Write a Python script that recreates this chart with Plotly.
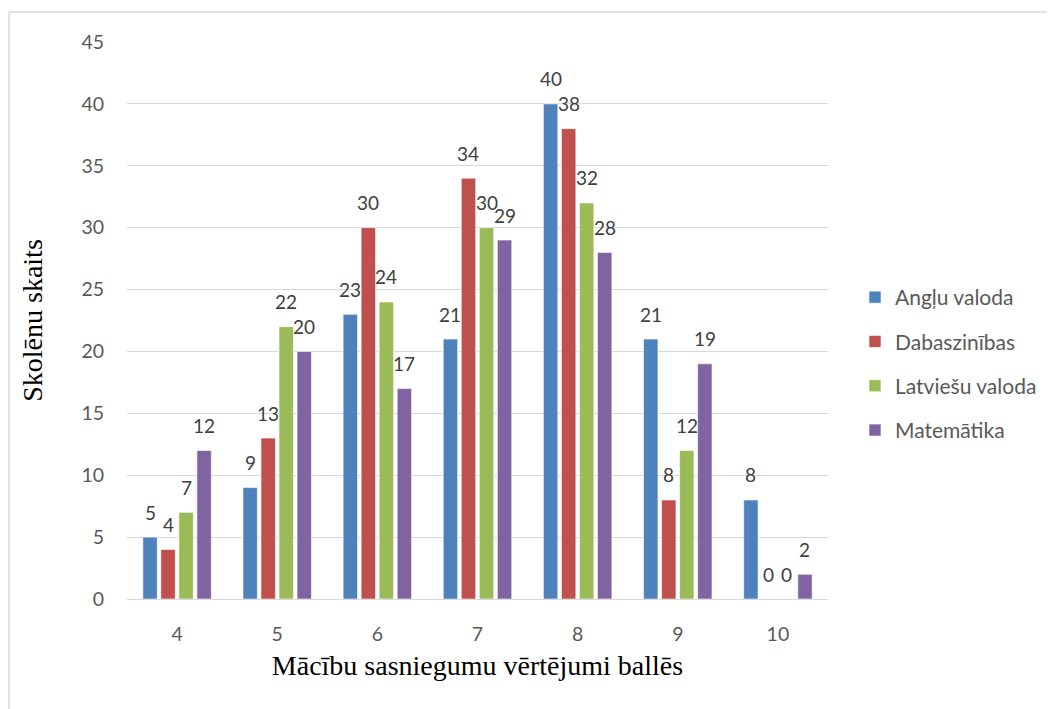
import plotly.graph_objects as go

categories = ["4", "5", "6", "7", "8", "9", "10"]
series_names = ["Angļu valoda", "Dabaszinības", "Latviešu valoda", "Matemātika"]
angļu = [5, 9, 23, 21, 40, 21, 8]
dabaszinibas = [4, 13, 30, 34, 38, 8, 0]
latviesu = [7, 22, 24, 30, 32, 12, 0]
matematika = [12, 20, 17, 29, 28, 19, 2]
y_ticks = [0, 5, 10, 15, 20, 25, 30, 35, 40, 45]

colors = ["#4F81BD", "#C0504D", "#9BBB59", "#8064A2"]
all_values = [angļu, dabaszinibas, latviesu, matematika]

SANS = "Lato, Open Sans, sans-serif"
SERIF = "Liberation Serif, Times New Roman, serif"

# page body has an 8px margin; figure sized to fit inside window
L, R, T, B = 119, 227, 34, 110
pw, ph = 701, 557
W, H = L + pw + R, T + ph + B
BARGAP, GROUPGAP = 0.28, 0.2

fig = go.Figure()
for i, (name, vals) in enumerate(zip(series_names, all_values)):
    fig.add_trace(go.Bar(
        x=categories, y=vals, name=name,
        marker=dict(color=colors[i], line=dict(color="rgba(255,255,255,0.6)", width=1)),
        legendgroup=f"g{i}",
    ))

# data labels, placed above each bar via the axis scales (category index on x)
n = len(all_values)
cat_px = pw / len(categories)
slot_px = (1 - BARGAP) * cat_px / n
for i, vals in enumerate(all_values):
    xs = (i - (n - 1) / 2) * slot_px
    for ci, v in enumerate(vals):
        fig.add_annotation(
            x=ci, y=v, xref="x", yref="y", text=str(v), showarrow=False,
            xshift=xs, yshift=25, yanchor="middle", xanchor="center",
            font=dict(family=SANS, size=19, color="#404040"),
        )

fig.update_layout(
    width=W, height=H,
    margin=dict(l=L, r=R, t=T, b=B),
    plot_bgcolor="white", paper_bgcolor="white",
    barmode="group", bargap=BARGAP, bargroupgap=GROUPGAP,
    showlegend=True,
    legend=dict(
        x=(847 - L) / pw, y=(591 - 356) / ph, xanchor="left", yanchor="middle",
        font=dict(family=SANS, size=21, color="#595959"),
        traceorder="grouped", tracegroupgap=14, bgcolor="rgba(0,0,0,0)",
    ),
    xaxis=dict(
        type="category", categoryorder="array", categoryarray=categories,
        range=[-0.5, len(categories) - 0.5],
        showgrid=False, showline=False, zeroline=False,
        tickfont=dict(family=SANS, size=19.5, color="#595959"),
        ticks="", ticklabelstandoff=21,
        title=dict(text="Mācību sasniegumu vērtējumi ballēs",
                   font=dict(family=SERIF, size=28, color="black"),
                   standoff=11),
    ),
    yaxis=dict(
        range=[0, 45], tickvals=y_ticks, showgrid=True, gridcolor="#d9d9d9", gridwidth=1.3,
        zeroline=True, zerolinecolor="#d9d9d9", zerolinewidth=1.3, showline=False,
        tickfont=dict(family=SANS, size=19.5, color="#595959"),
        ticks="", ticklabelstandoff=22,
        title=dict(text="Skolēnu skaits",
                   font=dict(family=SERIF, size=28, color="black"),
                   standoff=30),
    ),
)

# outer chart frame (left and top edges visible)
x0 = (1 - L) / pw
y_top = (ph + T - 4) / ph
fig.add_shape(type="line", xref="paper", yref="paper", x0=x0, x1=x0, y0=y_top, y1=-B / ph,
              line=dict(color="#d9d9d9", width=1.5))
fig.add_shape(type="line", xref="paper", yref="paper", x0=x0, x1=(W - L) / pw, y0=y_top, y1=y_top,
              line=dict(color="#d9d9d9", width=1.5))

fig.write_html("out.html")
